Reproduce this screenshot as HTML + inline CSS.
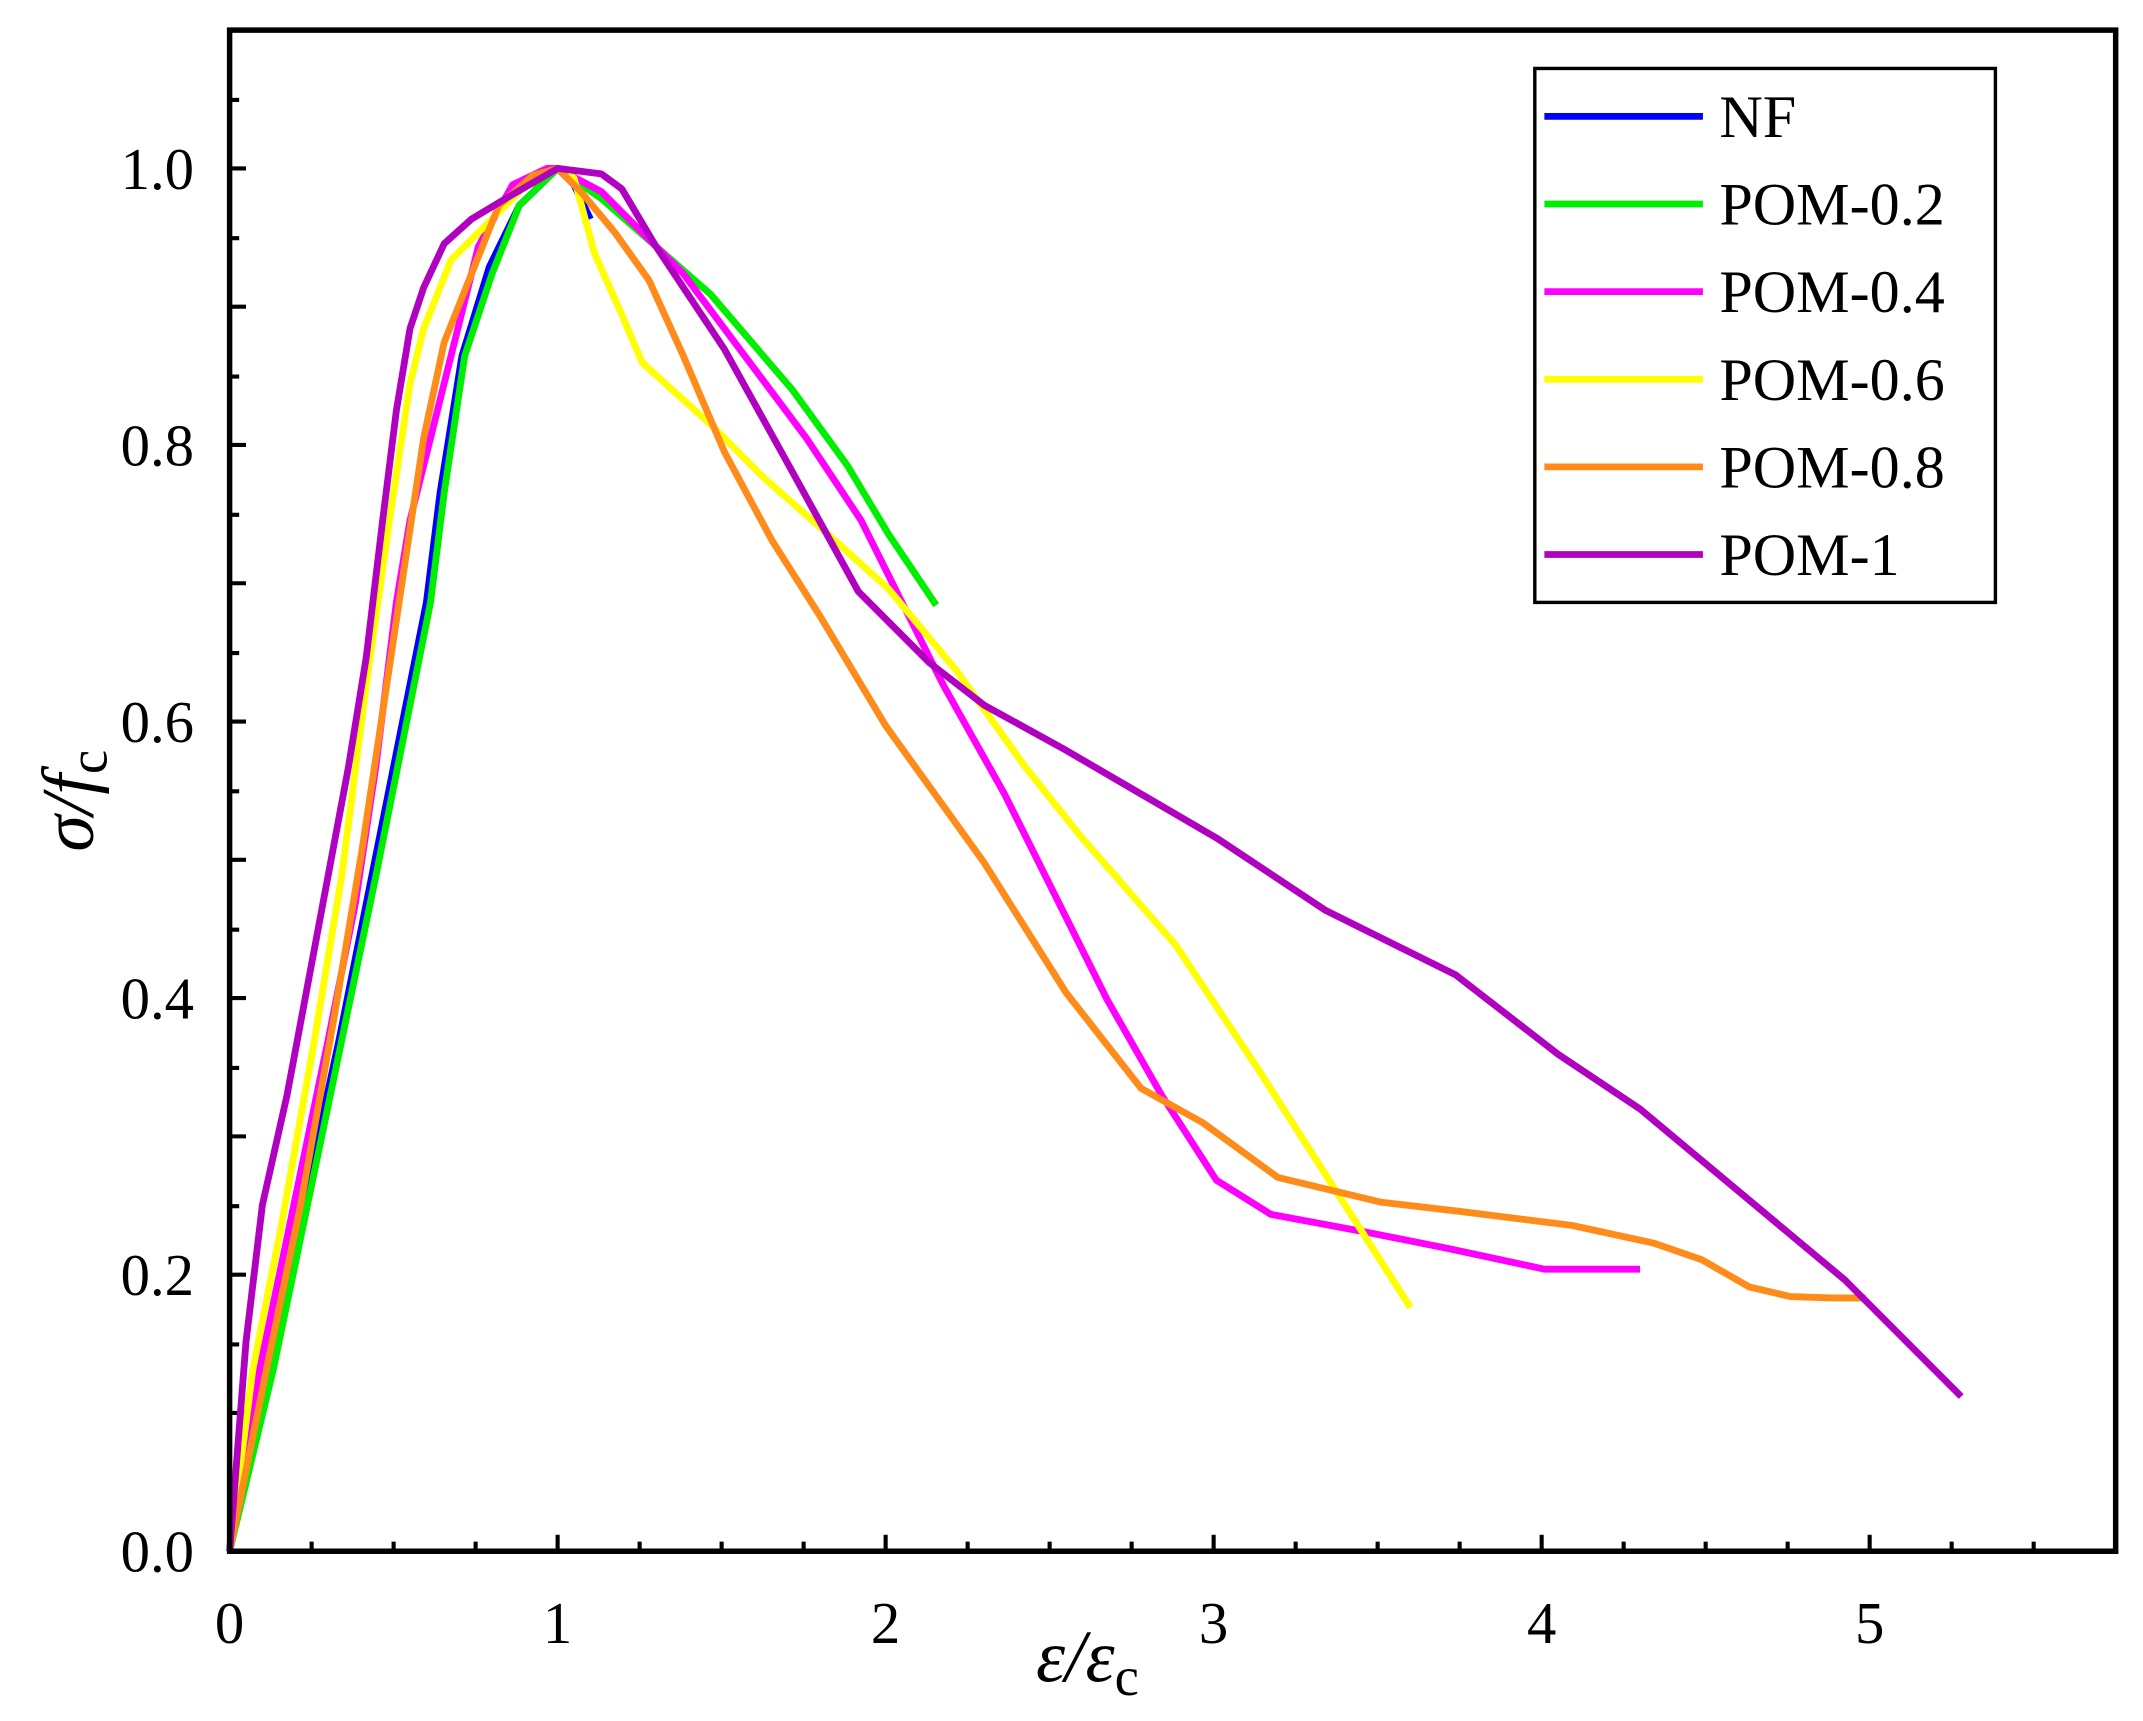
<!DOCTYPE html>
<html><head><meta charset="utf-8"><style>html,body{margin:0;padding:0;background:#fff}svg{display:block}</style></head>
<body>
<svg width="2143" height="1721" viewBox="0 0 1568 1257" preserveAspectRatio="none" xmlns="http://www.w3.org/2000/svg" font-family="Liberation Serif, serif">
<rect x="0" y="0" width="1568" height="1257" fill="#fff"/>
<g stroke="#000" stroke-width="3">
<path d="M168 1133h12M168 1083h7M168 1032h12M168 982h7M168 931h12M168 881h7M168 830h12M168 780h7M168 729h12M168 679h7M168 628h12M168 578h7M168 527h12M168 477h7M168 426h12M168 376h7M168 325h12M168 275h7M168 224h12M168 174h7M168 123h12M168 73h7"/>
<path d="M228 1133v-7M288 1133v-7M348 1133v-7M408 1133v-12M468 1133v-7M528 1133v-7M588 1133v-7M648 1133v-12M708 1133v-7M768 1133v-7M828 1133v-7M888 1133v-12M948 1133v-7M1008 1133v-7M1068 1133v-7M1128 1133v-12M1188 1133v-7M1248 1133v-7M1308 1133v-7M1368 1133v-12M1428 1133v-7M1488 1133v-7"/>
</g>
<g font-size="43" text-anchor="end">
<text x="142" y="1148">0.0</text><text x="142" y="946">0.2</text><text x="142" y="744">0.4</text><text x="142" y="542">0.6</text><text x="142" y="340">0.8</text><text x="142" y="138">1.0</text>
</g>
<g font-size="43" text-anchor="middle">
<text x="168" y="1200">0</text><text x="408" y="1200">1</text><text x="648" y="1200">2</text><text x="888" y="1200">3</text><text x="1128" y="1200">4</text><text x="1368" y="1200">5</text>
</g>
<text x="758" y="1228" font-size="54" font-style="italic">ε/ε<tspan font-style="normal" font-size="40" dy="10">c</tspan></text>
<text transform="translate(68,622) rotate(-90)" font-size="54" font-style="italic">σ/f<tspan font-style="normal" font-size="40" dy="10">c</tspan></text>
<g fill="none" stroke-width="5" stroke-linejoin="round">
<polyline stroke="#0000ff" points="168,1133 198,1000 222,880 248,760 272,640 292,540 312,440 322,360 338,260 358,195 380,150 408,123 420,135 432,160"/>
<polyline stroke="#00ee00" points="168,1133 200,1000 225,880 250,760 275,640 295,540 315,440 325,360 340,260 360,200 380,150 408,123 440,145 480,180 520,215 580,285 620,340 650,390 685,442"/>
<polyline stroke="#ff00ff" points="168,1133 190,1000 215,880 240,760 260,660 275,560 290,440 300,380 320,300 335,240 350,180 375,135 400,123 408,123 440,140 500,200 560,280 590,320 630,380 660,440 690,500 735,580 770,650 810,730 850,800 890,862 930,887 1000,900 1060,912 1130,927 1200,927"/>
<polyline stroke="#ffff00" points="168,1133 185,1000 205,900 230,760 250,640 268,500 285,380 300,280 310,240 330,190 360,160 385,135 408,123 420,130 435,185 455,230 470,265 520,310 560,350 600,385 650,430 700,490 750,560 790,610 860,690 920,780 1032,955"/>
<polyline stroke="#ff8c1a" points="168,1133 195,1000 220,880 245,740 265,620 280,520 295,420 310,320 325,250 345,200 365,150 390,128 408,123 425,140 450,170 475,205 500,260 530,330 565,395 600,450 648,530 720,630 780,725 835,795 880,820 935,860 1010,878 1070,885 1150,895 1210,908 1245,920 1280,940 1310,947 1340,948 1365,948"/>
<polyline stroke="#b000c0" points="168,1133 180,980 192,880 210,800 225,720 240,640 255,560 268,480 280,380 290,300 300,240 310,210 325,178 345,160 370,145 408,123 440,127 455,138 480,180 530,255 580,345 628,432 680,484 720,515 780,548 890,612 970,665 1065,712 1140,770 1200,810 1350,935 1435,1020"/>
</g>
<rect x="168" y="22" width="1380" height="1111" fill="none" stroke="#000" stroke-width="4"/>
<rect x="1123" y="50" width="337" height="390" fill="#fff" stroke="#000" stroke-width="2.5"/>
<g stroke-width="5">
<line x1="1130" y1="85" x2="1246" y2="85" stroke="#0000ff"/>
<line x1="1130" y1="149" x2="1246" y2="149" stroke="#00ee00"/>
<line x1="1130" y1="213" x2="1246" y2="213" stroke="#ff00ff"/>
<line x1="1130" y1="277" x2="1246" y2="277" stroke="#ffff00"/>
<line x1="1130" y1="341" x2="1246" y2="341" stroke="#ff8c1a"/>
<line x1="1130" y1="405" x2="1246" y2="405" stroke="#b000c0"/>
</g>
<g font-size="44">
<text x="1258" y="100">NF</text><text x="1258" y="164">POM-0.2</text><text x="1258" y="228">POM-0.4</text><text x="1258" y="292">POM-0.6</text><text x="1258" y="356">POM-0.8</text><text x="1258" y="420">POM-1</text>
</g>
</svg>
</body></html>
